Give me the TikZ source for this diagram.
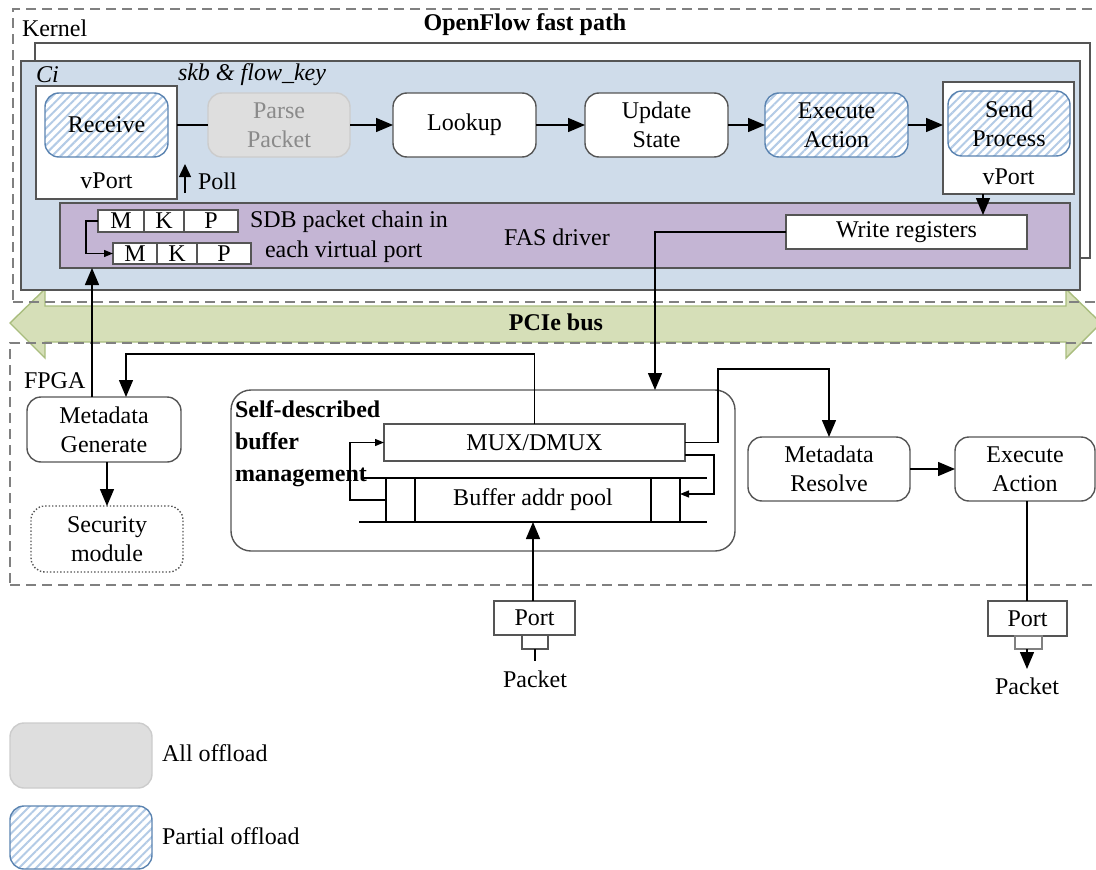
\documentclass[tikz,border=0pt]{standalone}
\usepackage{fontspec}
\setmainfont{Liberation Serif}
\usetikzlibrary{arrows.meta,patterns.meta,calc}

\definecolor{ciblue}{HTML}{CFDCEA}
\definecolor{faspurple}{HTML}{C4B5D4}
\definecolor{busfill}{HTML}{D6DFB8}
\definecolor{busline}{HTML}{A9BD7E}
\definecolor{boxline}{HTML}{555555}
\definecolor{dashgray}{HTML}{808080}
\definecolor{hatchline}{HTML}{5B84B1}
\definecolor{hatchcol}{HTML}{B3CBE6}
\definecolor{offgray}{HTML}{DEDEDE}
\definecolor{offline}{HTML}{CCCCCC}
\definecolor{offtext}{HTML}{8A8A8A}

\begin{document}
\begin{tikzpicture}[x=1pt,y=-1pt,
  every node/.style={font=\fontsize{24}{29}\selectfont, inner sep=0pt, outer sep=0pt},
  box/.style={draw=boxline, line width=1.4pt},
  region/.style={draw=dashgray, line width=1.4pt, dash pattern=on 10pt off 6pt},
  rbox/.style={box, fill=white, rounded corners=14pt, align=center},
  hatch/.style={draw=hatchline, line width=1.4pt, rounded corners=14pt, align=center,
    preaction={fill=white},
    pattern={Lines[angle=45,distance=6pt,line width=2pt]}, pattern color=hatchcol},
  alloff/.style={draw=offline, fill=offgray, line width=1.4pt, rounded corners=14pt,
    align=center, text=offtext},
  arr/.style={-{Triangle[length=17pt,width=14pt]}, line width=1.4pt},
  sarr/.style={-{Triangle[length=9pt,width=7pt]}, line width=1.2pt},
  wire/.style={line width=1.4pt}
]
\useasboundingbox (0,0) rectangle (1096,870);

% PCIe bus double arrow
\draw[busline, fill=busfill, line width=1.4pt]
  (10,323) -- (45,289) -- (45,306) -- (1066,306) -- (1066,289) -- (1101,323)
  -- (1066,358) -- (1066,342) -- (45,342) -- (45,358) -- cycle;
\node[font=\fontsize{24}{29}\selectfont\bfseries] (pcie) at (556,322) {PCIe bus};

% Kernel and FPGA regions
\node[region, minimum width=1097pt, minimum height=293pt] (kernel) at (561.5,155.5) {};
\node[anchor=west] (kernellbl) at (22,28) {Kernel};
\node[font=\fontsize{24}{29}\selectfont\bfseries] (ofpath) at (525,25) {OpenFlow fast path};
\node[region, minimum width=1100pt, minimum height=242pt] (fpga) at (560,464) {};
\node[anchor=west] (fpgalbl) at (24,381) {FPGA};

% stacked core frames
\node[box, fill=white, minimum width=1055pt, minimum height=215pt] (coreback) at (562.5,150.5) {};
\node[box, fill=ciblue, minimum width=1059pt, minimum height=229pt] (core) at (550.5,175.5) {};
\node[anchor=west, font=\fontsize{24}{29}\selectfont\itshape] (cilbl) at (36,75) {Ci};
\node[anchor=west, font=\fontsize{24}{29}\selectfont\itshape] (skblbl) at (178,75) {skb \& flow\_key};

% FAS driver band
\node[box, fill=faspurple, minimum width=1010pt, minimum height=65pt] (fas) at (565,235.5) {};
\node (faslbl) at (557,237) {FAS driver};

% pipeline
\node[box, fill=white, minimum width=141pt, minimum height=113pt] (vport1) at (106.5,142.5) {};
\node (vp1lbl) at (106.5,181) {vPort};
\node[hatch, minimum width=123pt, minimum height=64pt] (receive) at (106.5,125) {Receive};
\node[alloff, minimum width=142pt, minimum height=64pt] (parse) at (279,125) {Parse\\Packet};
\node[rbox, minimum width=143pt, minimum height=64pt] (lookup) at (464.5,125) {Lookup};
\node[rbox, minimum width=143pt, minimum height=64pt] (update) at (656.5,125) {Update\\State};
\node[hatch, minimum width=143pt, minimum height=64pt] (exec) at (836.5,125) {Execute\\Action};
\node[box, fill=white, minimum width=131pt, minimum height=112pt] (vport2) at (1008.5,138) {};
\node (vp2lbl) at (1008.5,177) {vPort};
\node[hatch, minimum width=122pt, minimum height=65pt] (send) at (1009,123.5) {Send\\Process};

\draw[wire] (receive.east -| vport1.east) -- (parse.west);
\draw[arr] (parse.east) -- (lookup.west);
\draw[arr] (lookup.east) -- (update.west);
\draw[arr] (update.east) -- (exec.west);
\draw[arr] (exec.east) -- (exec.east -| vport2.west);

% poll
\coordinate (pollbot) at (185,193);
\coordinate (polltop) at (185,164);
\draw[-{Triangle[length=13pt,width=12pt]}, line width=1.4pt] (pollbot) -- (polltop);
\node[anchor=west] (polllbl) at (198,181) {Poll};

% SDB packet chain
\node[box, fill=white, minimum width=46pt, minimum height=22pt] (m1) at (121,221) {M};
\node[box, fill=white, minimum width=40pt, minimum height=22pt] (k1) at (164,221) {K};
\node[box, fill=white, minimum width=54pt, minimum height=22pt] (p1) at (211,221) {P};
\node[box, fill=white, minimum width=44pt, minimum height=21pt] (m2) at (135,253.5) {M};
\node[box, fill=white, minimum width=40pt, minimum height=21pt] (k2) at (177,253.5) {K};
\node[box, fill=white, minimum width=54pt, minimum height=21pt] (p2) at (224,253.5) {P};
\draw[sarr] (m1.west) -- ++(-12,0) |- (m2.west);
\node[anchor=west] (sdb1) at (250,222) {SDB packet chain in};
\node[anchor=west] (sdb2) at (265,252) {each virtual port};

% write registers
\node[box, fill=white, minimum width=241pt, minimum height=34pt] (wreg) at (906.5,232) {Write registers};
\coordinate (wx) at (983,0);
\draw[arr] (vport2.south -| wx) -- (wreg.north -| wx);

% FPGA side
\node[rbox, minimum width=154pt, minimum height=65pt] (mg) at (104,429.5) {Metadata\\Generate};
\node[box, fill=white, dotted, rounded corners=14pt, align=center,
      minimum width=152pt, minimum height=66pt] (sec) at (107,539) {Security\\module};
\node[box, rounded corners=20pt, minimum width=504pt, minimum height=161pt] (sbm) at (483,470.5) {};
\node[anchor=west, align=left, font=\fontsize{24}{32}\selectfont\bfseries] (sbmlbl) at (235,444)
  {Self-described\\buffer\\management};
\node[box, fill=white, minimum width=301pt, minimum height=37pt] (mux) at (534.5,442.5) {MUX/DMUX};
\node[minimum width=294pt, minimum height=44pt] (pool) at (533,500) {Buffer addr pool};
\draw[wire] ($(pool.north west)+(-23,0)$) -- ($(pool.north east)+(27,0)$);
\draw[wire] ($(pool.south west)+(-27,0)$) -- ($(pool.south east)+(27,0)$);
\draw[wire] (pool.north west) -- (pool.south west);
\draw[wire] ($(pool.north west)+(29,0)$) -- ($(pool.south west)+(29,0)$);
\draw[wire] (pool.north east) -- (pool.south east);
\draw[wire] ($(pool.north east)+(-29,0)$) -- ($(pool.south east)+(-29,0)$);

\node[rbox, minimum width=162pt, minimum height=64pt] (mr) at (829,469) {Metadata\\Resolve};
\node[rbox, minimum width=140pt, minimum height=64pt] (ea2) at (1025,469) {Execute\\Action};

% FPGA connections
\coordinate (upx) at (92,0);
\draw[arr] (upx |- mg.north) -- (upx |- fas.south);
\coordinate (ret) at (126,354);
\draw[arr] (mux.north) |- (ret) -- (ret |- mg.north);
\coordinate (sx) at (107,0);
\draw[arr] (sx |- mg.south) -- (sx |- sec.north);
\coordinate (dnx) at (655,0);
\draw[arr] (wreg.west) -| (dnx |- sbm.north);
\draw[sarr] (pool.west) -- ++(-36,0) |- (mux.west);
\draw[sarr] ($(mux.east)+(0,12.5)$) -- ++(29,0) |- ($(pool.east)+(0,-6)$);
\draw[arr] (mux.east) -- ++(33,0) |- ($(mr.north)+(0,-68)$) -- (mr.north);
\draw[arr] (mr.east) -- (ea2.west);

% ports
\node[box, fill=white, minimum width=81pt, minimum height=34pt] (port1) at (534.5,618) {Port};
\node[box, fill=white, minimum width=26pt, minimum height=14pt] (plug1) at (535,642) {};
\node (pkt1) at (535,679) {Packet};
\draw[wire] (plug1.south) -- ++(0,12);
\draw[arr] (port1.north -| pool.south) -- (pool.south);

\node[box, fill=white, minimum width=79pt, minimum height=35pt] (port2) at (1027.5,618.5) {Port};
\node[draw=dashgray, fill=white, line width=1.4pt, minimum width=27pt, minimum height=13pt] (plug2) at (1028.5,642.5) {};
\node (pkt2) at (1027,686) {Packet};
\coordinate (ox) at (1027,0);
\draw[wire] (ox |- ea2.south) -- (ox |- port2.north);
\draw[arr] (ox |- plug2.south) -- ++(0,20);

% legend
\node[alloff, minimum width=142pt, minimum height=65pt] (legall) at (81,755.5) {};
\node[anchor=west] (legalllbl) at (162,753) {All offload};
\node[hatch, minimum width=142pt, minimum height=63pt] (legpart) at (81,837.5) {};
\node[anchor=west] (legpartlbl) at (162,836) {Partial offload};
\end{tikzpicture}
\end{document}
